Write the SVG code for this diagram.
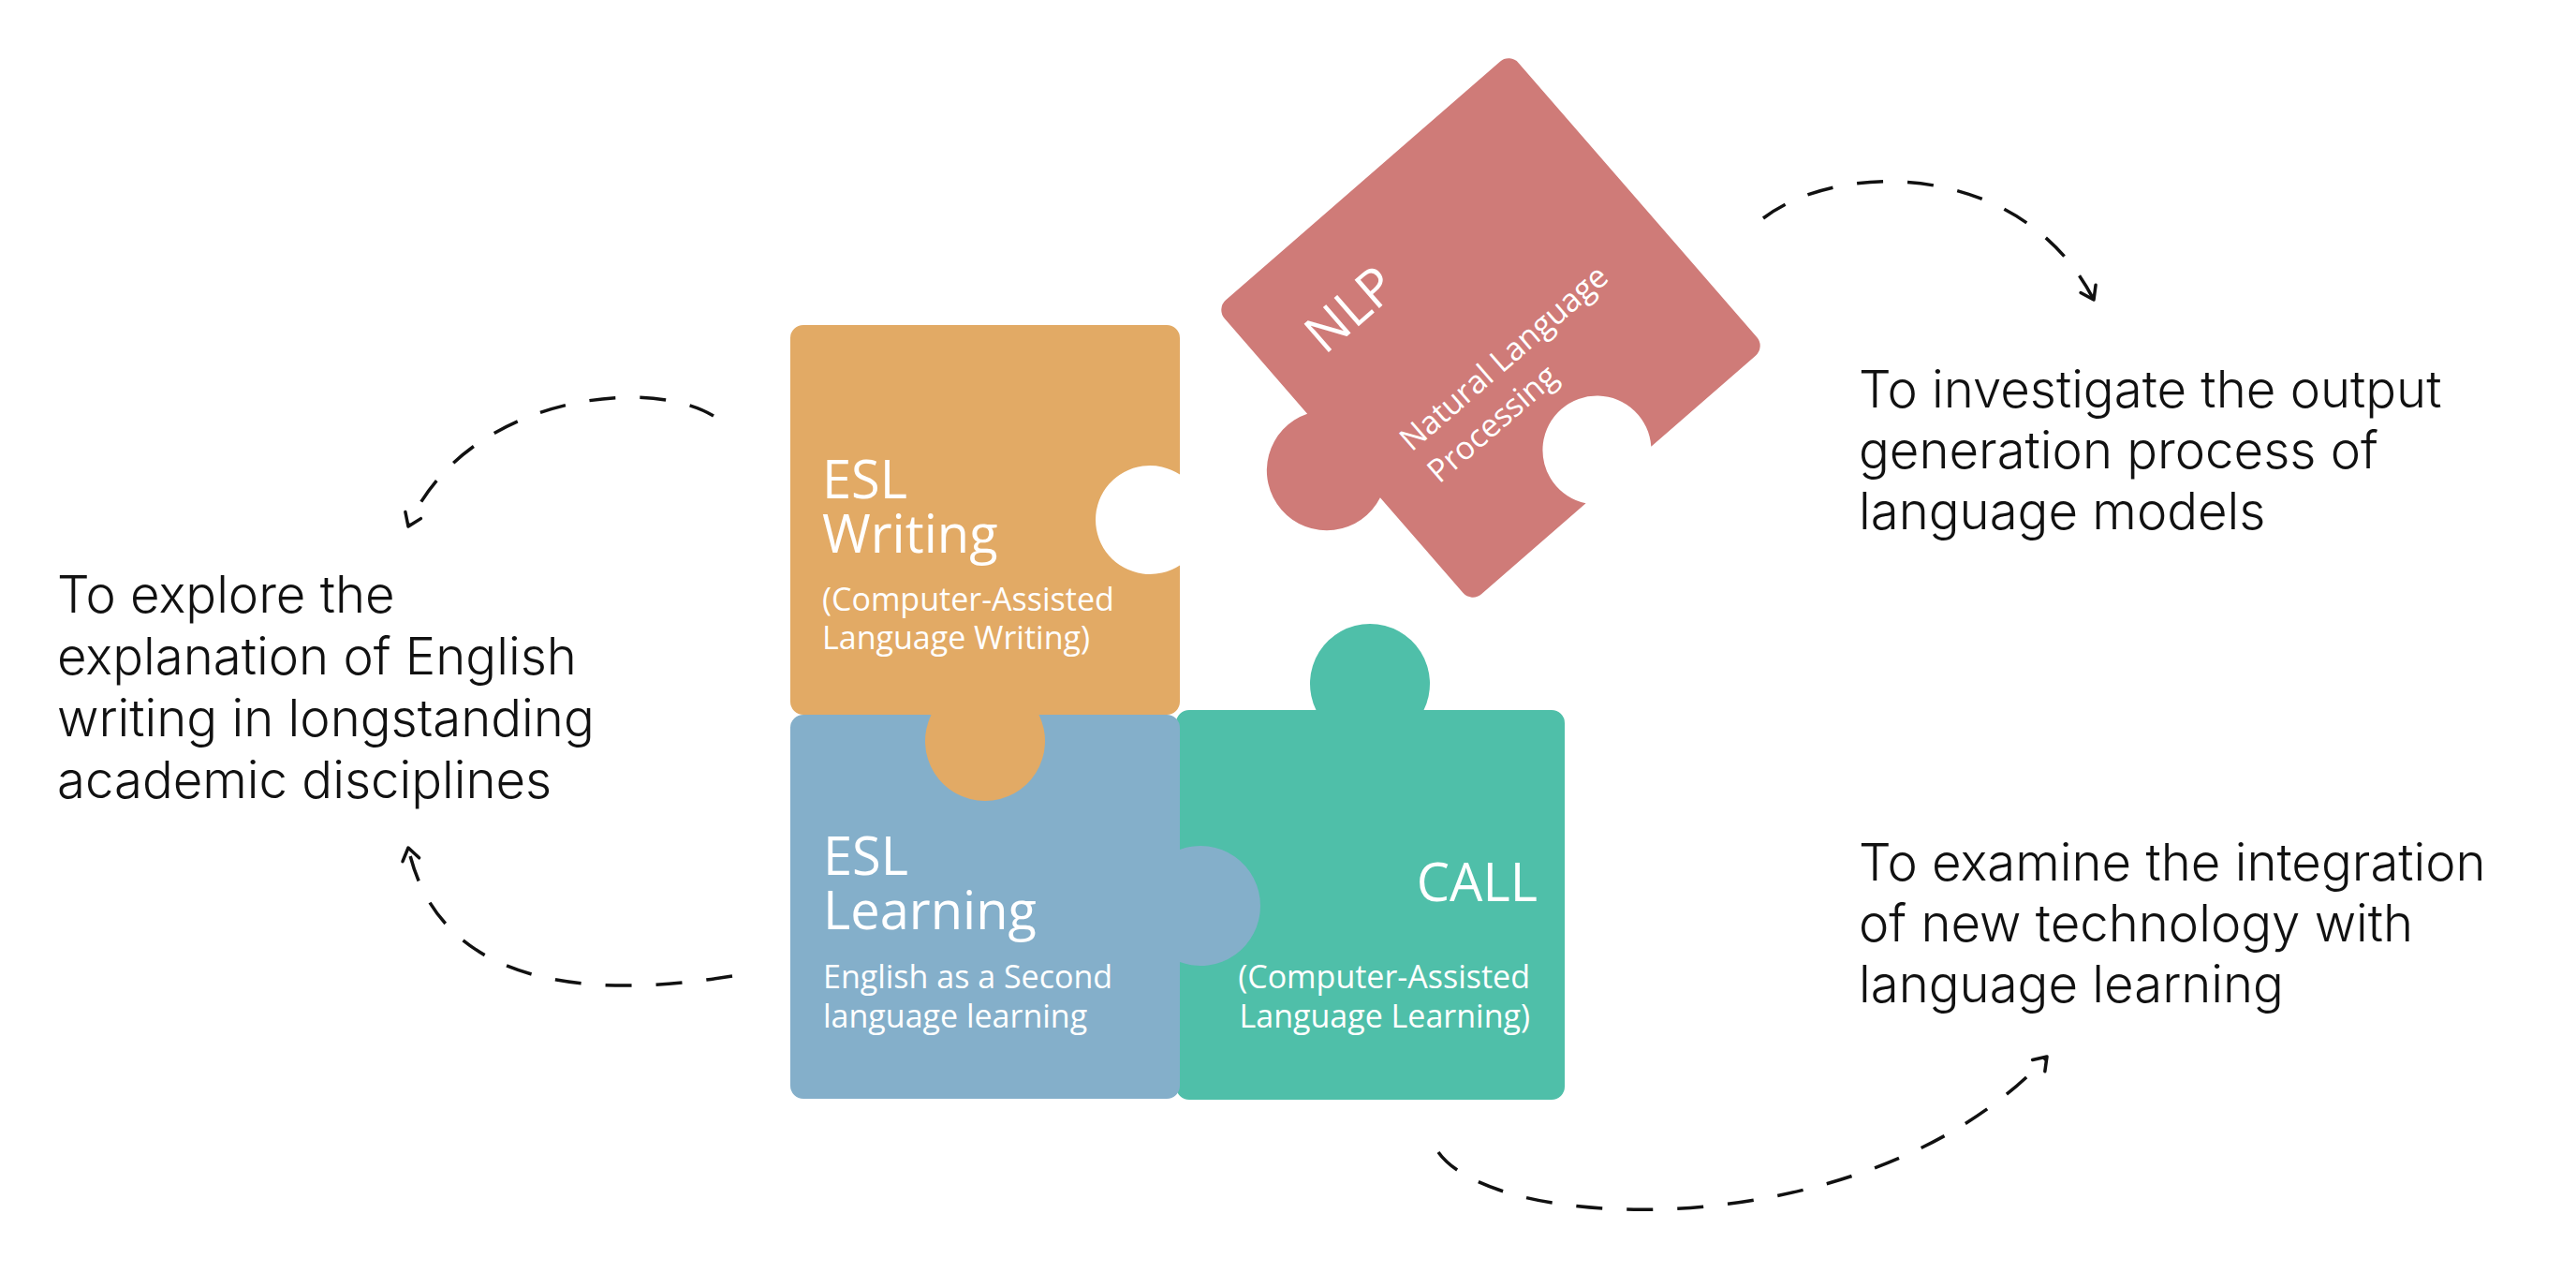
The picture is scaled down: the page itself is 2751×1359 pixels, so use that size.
<svg xmlns="http://www.w3.org/2000/svg" width="2751" height="1359" viewBox="0 0 2751 1359">
<style>
.desc{font-family:Inter,'Liberation Sans',sans-serif;font-weight:300;font-size:54.5px;fill:#111}
.title{font-family:'Open Sans','Noto Sans',sans-serif;font-size:56px;fill:#fff}
.sub{font-family:'Open Sans','Noto Sans',sans-serif;font-size:34px;fill:#fff}
.conn{fill:none;stroke:#111;stroke-width:3.5;stroke-dasharray:28 26}
</style>
<defs>
<marker id="arr" markerUnits="userSpaceOnUse" markerWidth="40" markerHeight="40" viewBox="-20 -20 40 40" refX="0" refY="0" orient="auto">
<path d="M -13 -9 L 0 0 L -13 9" fill="none" stroke="#111" stroke-width="3.5" stroke-linecap="round" stroke-linejoin="round"/>
</marker>
</defs>
<rect width="2751" height="1359" fill="#fff"/>

<g id="call">
<path fill="#4FBFA9" d="M 1270 758 H 1405.5 A 64 64 0 1 1 1520.5 758 H 1657 A 14 14 0 0 1 1671 772 V 1160 A 14 14 0 0 1 1657 1174 H 1270 A 14 14 0 0 1 1256 1160 V 772 A 14 14 0 0 1 1270 758 Z"/>
<text class="title" x="1642" y="962" text-anchor="end">CALL</text>
<text class="sub" x="1634" y="1055" text-anchor="end">(Computer-Assisted</text>
<text class="sub" x="1634" y="1097" text-anchor="end">Language Learning)</text>
</g>

<g id="esl-learning">
<path fill="#84AFCA" d="M 858 763 H 1246 A 14 14 0 0 1 1260 777 V 906.9 A 64 64 0 1 1 1260 1027.1 V 1159 A 14 14 0 0 1 1246 1173 H 858 A 14 14 0 0 1 844 1159 V 777 A 14 14 0 0 1 858 763 Z"/>
<text class="title" x="879" y="934">ESL</text>
<text class="title" x="879" y="992">Learning</text>
<text class="sub" x="879" y="1055">English as a Second</text>
<text class="sub" x="879" y="1097">language learning</text>
</g>

<g id="esl-writing">
<path fill="#E2AA65" d="M 858 347 H 1246 A 14 14 0 0 1 1260 361 V 506.6 A 58 58 0 1 0 1260 603.4 V 749 A 14 14 0 0 1 1246 763 H 1109.5 A 64 64 0 1 1 994.5 763 H 858 A 14 14 0 0 1 844 749 V 361 A 14 14 0 0 1 858 347 Z"/>
<text class="title" x="878" y="532">ESL</text>
<text class="title" x="878" y="590">Writing</text>
<text class="sub" x="878" y="652">(Computer-Assisted</text>
<text class="sub" x="878" y="693">Language Writing)</text>
</g>

<g id="nlp" transform="translate(1592 350) rotate(-41)">
<path fill="#CF7B78" d="M -194 -208 H 194 A 14 14 0 0 1 208 -194 V 194 A 14 14 0 0 1 194 208 H 46.2 A 58 58 0 1 0 -46.2 208 H -194 A 14 14 0 0 1 -208 194 V 59.3 A 64 64 0 1 1 -208 -59.3 V -194 A 14 14 0 0 1 -194 -208 Z"/>
<text class="title" x="-153" y="-94">NLP</text>
<text class="sub" x="-151" y="45">Natural Language</text>
<text class="sub" x="-151" y="90">Processing</text>
</g>

<g id="connectors">
<path class="conn" marker-end="url(#arr)" d="M 762 444 C 690 400 495 425 436 562"/>
<path class="conn" marker-end="url(#arr)" d="M 782 1042 C 640 1065 470 1060 436 905"/>
<path class="conn" marker-end="url(#arr)" d="M 1883 233 C 1965 170 2160 172 2236 320"/>
<path class="conn" marker-end="url(#arr)" d="M 1536 1230 C 1600 1320 2000 1330 2186 1128"/>
</g>

<g id="desc-left">
<text class="desc" x="61" y="654">To explore the</text>
<text class="desc" x="61" y="720">explanation of English</text>
<text class="desc" x="61" y="786">writing in longstanding</text>
<text class="desc" x="61" y="852">academic disciplines</text>
</g>
<g id="desc-top-right">
<text class="desc" x="1985" y="435">To investigate the output</text>
<text class="desc" x="1985" y="500">generation process of</text>
<text class="desc" x="1985" y="565">language models</text>
</g>
<g id="desc-bottom-right">
<text class="desc" x="1985" y="940">To examine the integration</text>
<text class="desc" x="1985" y="1005">of new technology with</text>
<text class="desc" x="1985" y="1070">language learning</text>
</g>
</svg>
